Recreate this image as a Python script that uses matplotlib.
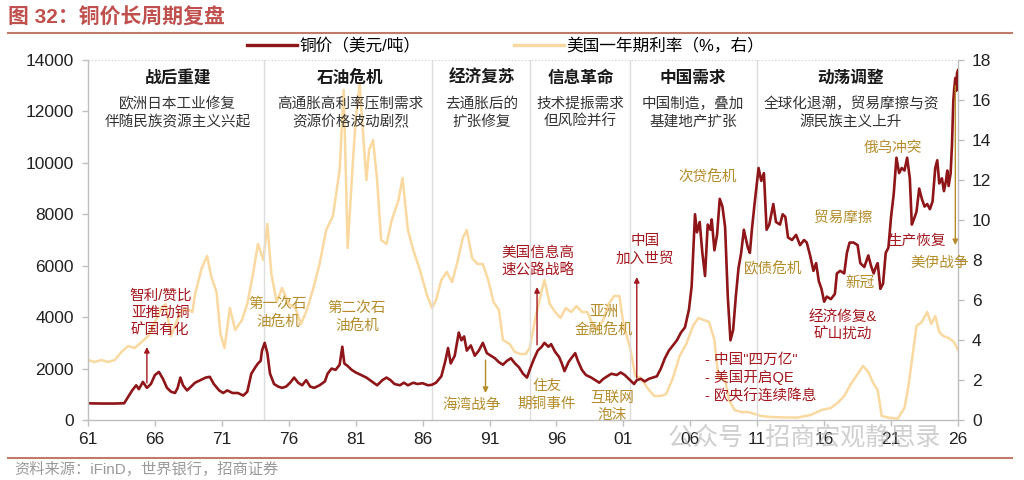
import matplotlib
matplotlib.use("Agg")
import matplotlib.pyplot as plt
from matplotlib.lines import Line2D

plt.rcParams['font.family'] = ['Liberation Sans', 'Noto Sans CJK SC', 'DejaVu Sans']

# ---------------- data ----------------
copper_year = [1961.0, 1962.0, 1963.0, 1963.7, 1964.0, 1964.3, 1964.6, 1964.8, 1965.1, 1965.4, 1965.7,
               1966.0, 1966.3, 1966.6, 1966.9, 1967.2, 1967.5, 1967.7, 1967.9, 1968.1, 1968.4, 1968.7,
               1969.0, 1969.4, 1969.8, 1970.1, 1970.4, 1970.8, 1971.1, 1971.4, 1971.8, 1972.2, 1972.6,
               1972.9, 1973.2, 1973.5, 1973.7, 1973.9, 1974.0, 1974.2, 1974.4, 1974.6, 1974.9, 1975.2,
               1975.5, 1975.8, 1976.1, 1976.4, 1976.7, 1977.0, 1977.3, 1977.6, 1977.9, 1978.3, 1978.7,
               1978.9, 1979.2, 1979.5, 1979.8, 1980.0, 1980.15, 1980.4, 1980.7, 1981.0, 1981.4, 1981.8,
               1982.2, 1982.6, 1983.0, 1983.3, 1983.6, 1983.9, 1984.3, 1984.6, 1984.9, 1985.3, 1985.6,
               1986.0, 1986.4, 1986.7, 1987.0, 1987.4, 1987.7, 1987.9, 1988.1, 1988.4, 1988.7, 1988.9,
               1989.1, 1989.3, 1989.6, 1989.9, 1990.2, 1990.5, 1990.8, 1991.1, 1991.4, 1991.7, 1992.0,
               1992.3, 1992.6, 1992.9, 1993.2, 1993.5, 1993.8, 1994.0, 1994.3, 1994.6, 1994.9, 1995.1,
               1995.4, 1995.6, 1995.9, 1996.2, 1996.4, 1996.6, 1996.9, 1997.1, 1997.4, 1997.6, 1997.9,
               1998.2, 1998.6, 1998.9, 1999.2, 1999.5, 1999.8, 2000.1, 2000.5, 2000.8, 2001.1, 2001.5,
               2001.8, 2002.0, 2002.3, 2002.6, 2002.9, 2003.2, 2003.5, 2003.8, 2004.1, 2004.4, 2004.7,
               2005.0, 2005.3, 2005.6, 2005.9, 2006.1, 2006.35, 2006.5, 2006.7, 2006.9, 2007.1, 2007.3,
               2007.5, 2007.6, 2007.8, 2008.0, 2008.2, 2008.4, 2008.6, 2008.8, 2009.0, 2009.2, 2009.4,
               2009.6, 2009.8, 2010.0, 2010.3, 2010.45, 2010.6, 2010.8, 2011.1, 2011.3, 2011.5, 2011.7,
               2011.9, 2012.2, 2012.4, 2012.7, 2012.9, 2013.1, 2013.3, 2013.6, 2013.9, 2014.2, 2014.5,
               2014.7, 2014.95, 2015.2, 2015.4, 2015.6, 2015.8, 2016.0, 2016.2, 2016.5, 2016.8, 2016.95,
               2017.2, 2017.5, 2017.7, 2017.9, 2018.2, 2018.5, 2018.7, 2019.0, 2019.3, 2019.5, 2019.7,
               2019.9, 2020.0, 2020.2, 2020.4, 2020.6, 2020.8, 2021.0, 2021.2, 2021.4, 2021.6, 2021.8,
               2022.0, 2022.2, 2022.4, 2022.55, 2022.7, 2022.9, 2023.1, 2023.3, 2023.5, 2023.7, 2023.9,
               2024.1, 2024.3, 2024.45, 2024.6, 2024.8, 2024.95, 2025.1, 2025.2, 2025.3, 2025.45, 2025.55,
               2025.65, 2025.72, 2025.8, 2025.87, 2025.93, 2026.0]
copper_price = [650, 640, 640, 650, 900, 1150, 1350, 1200, 1480, 1250, 1400,
                1750, 1870, 1600, 1250, 1100, 1050, 1250, 1650, 1350, 1150, 1300,
                1450, 1550, 1650, 1680, 1400, 1150, 1050, 1150, 1050, 1050, 950,
                1100, 1800, 2050, 2200, 2300, 2700, 3000, 2600, 1800, 1400, 1300,
                1250, 1300, 1450, 1650, 1450, 1350, 1550, 1300, 1250, 1350, 1500,
                1800, 2000, 1950, 2150, 2850, 2200, 2100, 1950, 1850, 1750, 1650,
                1500, 1350, 1550, 1650, 1550, 1400, 1350, 1450, 1350, 1450, 1400,
                1430, 1350, 1370, 1450, 1700, 2300, 2800, 2200, 2500, 3400, 3100,
                3250, 2700, 2900, 2500, 2700, 3000, 2600, 2500, 2400, 2250, 2150,
                2300, 2400, 2200, 2050, 1800, 1650, 1950, 2350, 2700, 2850, 3000,
                2850, 2950, 2650, 2450, 2200, 1900, 2250, 2400, 2600, 2300, 1950,
                1750, 1650, 1550, 1450, 1600, 1700, 1800, 1750, 1850, 1750, 1550,
                1400, 1550, 1600, 1500, 1600, 1650, 1700, 2000, 2400, 2700, 2900,
                3100, 3400, 3600, 4300, 5200, 8000, 7300, 7700, 6500, 5600, 7600,
                7400, 7800, 6600, 7200, 8600, 8300, 7500, 4800, 3100, 3500, 4800,
                5900, 6500, 7400, 6700, 6500, 7400, 8400, 9800, 9300, 9600, 7400,
                7600, 8400, 7700, 7600, 8000, 7900, 7100, 7000, 7200, 6800, 7000,
                6900, 6400, 5800, 6100, 5400, 5100, 4600, 4800, 4700, 4900, 5700,
                5800, 5700, 6500, 6900, 6900, 6800, 6100, 5950, 6400, 6000, 5700,
                6000, 6100, 5100, 5300, 6500, 6700, 7900, 8800, 10200, 9600, 9800,
                9700, 10200, 9400, 7600, 7800, 8100, 9000, 8600, 8300, 8400, 8200,
                8500, 9800, 10100, 9200, 9400, 8900, 9300, 9700, 9100, 9600, 10700,
                12400, 12900, 13300, 12800, 13500, 13600]

rate_year = [1961.0, 1961.5, 1962.0, 1962.5, 1963.0, 1963.5, 1964.0, 1964.5, 1965.0, 1965.5, 1966.0,
             1966.5, 1966.8, 1967.2, 1967.6, 1968.0, 1968.5, 1968.8, 1969.0, 1969.5, 1969.9, 1970.2,
             1970.6, 1970.9, 1971.2, 1971.6, 1972.0, 1972.5, 1972.9, 1973.3, 1973.7, 1974.1, 1974.4,
             1974.7, 1975.1, 1975.5, 1976.0, 1976.5, 1976.9, 1977.3, 1977.8, 1978.3, 1978.8, 1979.3,
             1979.8, 1980.1, 1980.2, 1980.4, 1980.8, 1981.0, 1981.3, 1981.5, 1981.8, 1982.0, 1982.3,
             1982.6, 1982.9, 1983.3, 1983.7, 1984.2, 1984.5, 1984.9, 1985.3, 1985.8, 1986.3, 1986.7,
             1987.0, 1987.4, 1987.8, 1988.2, 1988.6, 1989.0, 1989.3, 1989.7, 1990.1, 1990.5, 1990.9,
             1991.3, 1991.7, 1992.0, 1992.5, 1992.9, 1993.3, 1993.7, 1994.0, 1994.4, 1994.8, 1995.1,
             1995.5, 1995.9, 1996.3, 1996.7, 1997.1, 1997.5, 1997.9, 1998.3, 1998.7, 1999.0, 1999.5,
             1999.9, 2000.3, 2000.7, 2001.0, 2001.5, 2001.9, 2002.3, 2002.8, 2003.3, 2003.8, 2004.2,
             2004.7, 2005.2, 2005.7, 2006.2, 2006.6, 2007.0, 2007.4, 2007.8, 2008.1, 2008.6, 2008.9,
             2009.3, 2009.8, 2010.3, 2010.8, 2011.3, 2012.0, 2013.0, 2014.0, 2015.0, 2015.8, 2016.5,
             2017.0, 2017.5, 2018.0, 2018.5, 2018.9, 2019.3, 2019.7, 2020.0, 2020.3, 2020.8, 2021.5,
             2022.0, 2022.3, 2022.6, 2022.9, 2023.3, 2023.7, 2024.0, 2024.3, 2024.6, 2024.9, 2025.3,
             2025.7, 2026.0]
rate_value = [3.0, 2.9, 3.0, 2.9, 3.0, 3.4, 3.7, 3.6, 3.9, 4.2, 4.9,
              5.6, 5.8, 4.2, 4.9, 5.5, 5.5, 5.4, 6.3, 7.6, 8.2, 7.2,
              6.4, 4.3, 3.6, 5.6, 4.5, 5.0, 5.8, 7.2, 8.8, 8.0, 9.8,
              7.3, 5.9, 6.6, 5.8, 5.6, 4.8, 5.4, 6.5, 7.8, 9.5, 10.2,
              12.5, 16.5, 14.0, 8.6, 13.0, 15.0, 16.8, 14.8, 12.0, 13.5, 14.0,
              12.0, 9.0, 8.8, 10.0, 11.0, 12.1, 9.5, 8.5, 7.5, 6.3, 5.6,
              6.0, 7.0, 7.4, 6.9, 7.9, 9.1, 9.5, 8.1, 7.8, 7.8, 7.0,
              5.9, 5.5, 4.0, 3.8, 3.4, 3.3, 3.3, 3.6, 5.0, 6.2, 7.0,
              5.8, 5.4, 5.1, 5.6, 5.4, 5.7, 5.4, 5.4, 4.8, 4.5, 5.0,
              5.8, 6.2, 6.2, 4.8, 3.6, 2.2, 2.1, 1.6, 1.2, 1.2, 1.3,
              2.1, 3.2, 3.8, 4.7, 5.1, 5.0, 4.9, 4.0, 2.1, 2.0, 1.0,
              0.5, 0.4, 0.4, 0.3, 0.2, 0.15, 0.13, 0.12, 0.25, 0.5, 0.6,
              0.85, 1.2, 1.8, 2.3, 2.7, 2.4, 1.8, 1.5, 0.2, 0.12, 0.07,
              0.6, 1.7, 3.2, 4.7, 4.9, 5.4, 4.8, 5.2, 4.4, 4.2, 4.1,
              3.9, 3.5]

xtick_years = [1961, 1966, 1971, 1976, 1981, 1986, 1991, 1996, 2001, 2006, 2011, 2016, 2021, 2026]
xtick_labels = ['61', '66', '71', '76', '81', '86', '91', '96', '01', '06', '11', '16', '21', '26']
period_bounds = [1974.15, 1986.7, 1994.0, 2001.5, 2011.0]

periods = [
    (1967.7, '战后重建', '欧洲日本工业修复\n伴随民族资源主义兴起'),
    (1980.6, '石油危机', '高通胀高利率压制需求\n资源价格波动剧烈'),
    (1990.4, '经济复苏', '去通胀后的\n扩张修复'),
    (1997.8, '信息革命', '技术提振需求\n但风险并行'),
    (2006.2, '中国需求', '中国制造，叠加\n基建地产扩张'),
    (2018.0, '动荡调整', '全球化退潮，贸易摩擦与资\n源民族主义上升'),
]

# ---------------- style ----------------
C_COPPER = '#8E1518'
C_RATE = '#FAD9A0'
C_RED_TXT = '#A3181E'
C_GOLD_TXT = '#B48C2A'
C_TITLE = '#C0504D'

fig = plt.figure(figsize=(10.24, 4.8), dpi=100)
ax = fig.add_axes([88 / 1024, 60 / 480, 870 / 1024, 360 / 480])
ax2 = ax.twinx()

ax2.plot(rate_year, rate_value, color=C_RATE, lw=1.8, solid_joinstyle='round')
ax.plot(copper_year, copper_price, color=C_COPPER, lw=1.9, solid_joinstyle='round')

ax.set_zorder(ax2.get_zorder() + 1)
ax.patch.set_visible(False)

ax.set_xlim(1961, 2026)
ax.set_ylim(0, 14000)
ax2.set_ylim(0, 18)
ax.set_yticks(range(0, 14001, 2000))
ax2.set_yticks(range(0, 19, 2))
ax.set_xticks(xtick_years)
ax.set_xticklabels(xtick_labels)

for a in (ax, ax2):
    for s in a.spines.values():
        s.set_visible(False)
ax.spines['left'].set_visible(True)
ax.spines['bottom'].set_visible(True)
ax2.spines['right'].set_visible(True)
for s in (ax.spines['left'], ax.spines['bottom'], ax2.spines['right']):
    s.set_color('#BFBFBF')
    s.set_linewidth(1.0)
ax.tick_params(axis='both', colors='#BFBFBF', labelcolor='#222222', labelsize=12.5, length=4, width=1)
ax2.tick_params(axis='y', colors='#BFBFBF', labelcolor='#222222', labelsize=12.5, length=4, width=1)
ax.tick_params(axis='y', pad=6)
ax2.tick_params(axis='y', pad=6)
ax.tick_params(axis='x', pad=5)

ax.axhline(14000, color='#CCCCCC', lw=0.8, ls=(0, (1, 2)))
for b in period_bounds:
    ax.axvline(b, color='#DDDDDD', lw=1.0, zorder=0)

# period headers
for xc, head, sub in periods:
    ax.text(xc, 13300, head, ha='center', va='center', fontsize=12, fontweight='bold', color='#1A1A1A')
    ax.text(xc, 11940, sub, ha='center', va='center', fontsize=10.5, color='#333333', linespacing=1.35)

# event annotations
def label(x, y, s, color, ha='center'):
    ax.text(x, y, s, ha=ha, va='center', fontsize=10.5, color=color, linespacing=1.3)

def arrow(x, y0, y1, color):
    ax.annotate('', xy=(x, y1), xytext=(x, y0),
                arrowprops=dict(arrowstyle='-|>', color=color, lw=1.0, mutation_scale=8, shrinkA=0, shrinkB=0))

label(1966.4, 4160, '智利/赞比\n亚推动铜\n矿国有化', C_RED_TXT)
arrow(1965.4, 1440, 2840, C_RED_TXT)
label(1975.2, 4160, '第一次石\n油危机', C_GOLD_TXT)
label(1981.1, 4000, '第二次石\n油危机', C_GOLD_TXT)
label(1989.7, 580, '海湾战争', C_GOLD_TXT)
arrow(1990.7, 2330, 1050, C_GOLD_TXT)
label(1994.6, 6140, '美国信息高\n速公路战略', C_RED_TXT)
arrow(1994.55, 2920, 5170, C_RED_TXT)
label(1995.3, 970, '住友\n期铜事件', C_GOLD_TXT)
label(1999.55, 3850, '亚洲\n金融危机', C_GOLD_TXT)
label(2000.15, 540, '互联网\n泡沫', C_GOLD_TXT)
label(2002.6, 6610, '中国\n加入世贸', C_RED_TXT)
arrow(2002.0, 1630, 5560, C_RED_TXT)
label(2007.3, 9450, '次贷危机', C_GOLD_TXT)
label(2012.2, 5910, '欧债危机', C_GOLD_TXT)
label(2007.1, 1630, '- 中国"四万亿"\n- 美国开启QE\n- 欧央行连续降息', C_RED_TXT, ha='left')
label(2017.4, 7860, '贸易摩擦', C_GOLD_TXT)
label(2017.4, 3660, '经济修复&\n矿山扰动', C_RED_TXT)
label(2018.7, 5330, '新冠', C_GOLD_TXT)
label(2021.15, 10580, '俄乌冲突', C_GOLD_TXT)
label(2022.9, 6960, '生产恢复', C_RED_TXT)
label(2024.65, 6110, '美伊战争', C_GOLD_TXT)
arrow(2025.8, 13000, 6800, C_GOLD_TXT)

# legend
handles = [Line2D([], [], color=C_COPPER, lw=2.4), Line2D([], [], color=C_RATE, lw=2.4)]
fig.legend(handles, ['铜价（美元/吨）', '美国一年期利率（%，右）'], loc='center left',
           bbox_to_anchor=(232 / 1024, 1 - 46 / 480), ncol=2, frameon=False, fontsize=12,
           handlelength=3.0, handletextpad=0.15, columnspacing=5.6)

# title and frame lines
fig.text(8 / 1024, 1 - 18 / 480, '图 32：铜价长周期复盘', fontsize=15, fontweight='bold', color=C_TITLE,
         va='center', ha='left')
fig.add_artist(Line2D([8 / 1024, 1012 / 1024], [1 - 33 / 480, 1 - 33 / 480], color='#C07A68', lw=1.5))
fig.add_artist(Line2D([8 / 1024, 1012 / 1024], [1 - 458 / 480, 1 - 458 / 480], color='#C07A68', lw=1.5))
fig.text(14 / 1024, 1 - 469 / 480, '资料来源：iFinD，世界银行，招商证券', fontsize=11, color='#9A9A9A',
         va='center', ha='left')
fig.text(668 / 1024, 1 - 438 / 480, '公众号 · 招商宏观静思录', fontsize=18, color='#B0B0B0', alpha=0.6,
         va='center', ha='left')

fig.savefig('out.png', dpi=100)
